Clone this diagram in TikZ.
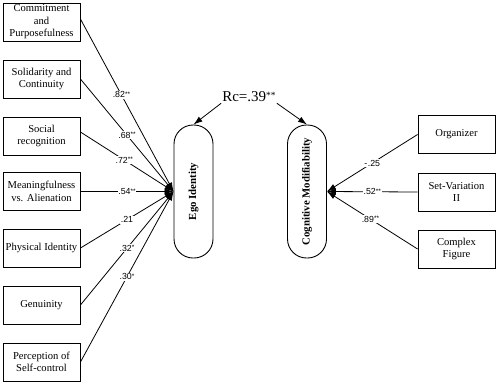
\documentclass[tikz,border=0pt]{standalone}
\usepackage{fontspec}
\setmainfont{Liberation Serif}
\newfontfamily\lblfont{Liberation Sans}
\usetikzlibrary{arrows.meta}
\tikzset{
  vbox/.style={draw, line width=0.9pt, minimum width=77pt, minimum height=38pt, align=center, inner sep=0.5pt, font=\fontsize{10.6}{12.6}\selectfont},
  latent/.style={draw, line width=0.9pt, rounded corners=19pt, minimum width=39pt, minimum height=133pt, inner sep=0pt, font=\fontsize{10.8}{12}\selectfont\bfseries},
  path/.style={line width=0.8pt, -{Latex[length=9pt,width=6pt]}},
  coef/.style={fill=white, inner sep=0.8pt, font=\lblfont\fontsize{8.8}{10}\selectfont},
}
\newcommand{\st}[1]{\raisebox{0.3ex}{\fontsize{6.5}{7}\selectfont #1}}
\newcommand{\bigst}[1]{\raisebox{0.45ex}{\fontsize{9.5}{10}\selectfont #1}}
\begin{document}
\begin{tikzpicture}[x=1pt,y=-1pt]
\useasboundingbox (0,0) rectangle (500,384);
% left boxes
\node[vbox] (b1) at (41.5,22) {Commitment\\and\\Purposefulness};
\node[vbox] (b2) at (41.5,79) {Solidarity and\\Continuity};
\node[vbox] (b3) at (41.5,136) {Social\\recognition};
\node[vbox] (b4) at (41.5,191.5) {Meaningfulness\\vs. Alienation};
\node[vbox] (b5) at (41.5,248) {Physical Identity};
\node[vbox] (b6) at (41.5,305) {Genuinity};
\node[vbox] (b7) at (41.5,362) {Perception of\\Self-control};
% latent
\node[latent] (ego) at (193.5,191.5) {\rotatebox{90}{Ego Identity}};
\node[latent] (cog) at (307,191.5) {\rotatebox{90}{Cognitive Modifiability}};
% right boxes
\node[vbox] (r1) at (456.5,134.5) {Organizer};
\node[vbox] (r2) at (456.5,192) {Set-Variation\\II};
\node[vbox] (r3) at (456.5,249) {Complex\\Figure};
% correlation
\node[font=\fontsize{15}{17}\selectfont, inner sep=1pt] (rc) at (249,97) {Rc=.39\bigst{**}};
\draw[path] (rc.south west) -- (ego.north);
\draw[path] (rc.south east) -- (cog.north);
% left paths
\draw[path] ([yshift=3pt]b1.east) -- node[coef, pos=0.44] {.82\st{**}} (ego.west);
\draw[path] (b2.east) -- node[coef, pos=0.5] {.68\st{**}} (ego.west);
\draw[path] ([yshift=4pt]b3.east) -- node[coef, pos=0.47] {.72\st{**}} (ego.west);
\draw[path] (b4.east) -- node[coef, pos=0.5] {.54\st{**}} (ego.west);
\draw[path] (b5.east) -- node[coef, pos=0.5] {.21} (ego.west);
\draw[path] (b6.east) -- node[coef, pos=0.5] {.32\st{*}} (ego.west);
\draw[path] (b7.east) -- node[coef, pos=0.5] {.30\st{*}} (ego.west);
% right paths
\draw[path] (r1.west) -- node[coef, pos=0.5] {-\kern0.5pt.25} (cog.east);
\draw[path] (r2.west) -- node[coef, pos=0.5] {.52\st{**}} (cog.east);
\draw[path] (r3.west) -- node[coef, pos=0.52] {.89\st{**}} (cog.east);
\end{tikzpicture}
\end{document}
